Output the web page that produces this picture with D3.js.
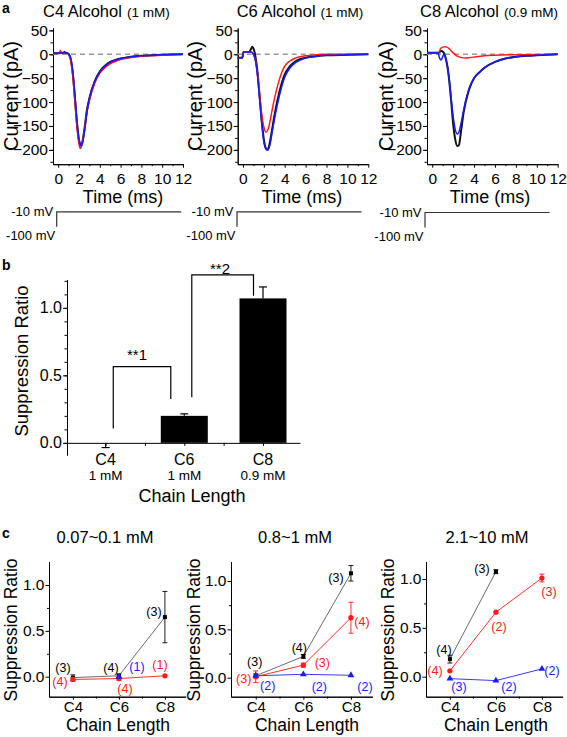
<!DOCTYPE html>
<html><head><meta charset="utf-8">
<script src="https://cdn.jsdelivr.net/npm/d3@7"></script>
<style>
body{margin:0;background:#fff;}
svg{display:block;}
</style></head><body>
<svg id="chart" width="567" height="737"></svg>
<script>
// ---------------- DATA ----------------
// Panel a: current traces, [time (ms), current (pA)]
const timeTicks = [0, 2, 4, 6, 8, 10, 12];
const currentTicks = [50, 0, -50, -100, -150, -200];
const alcoholTitles = ["C4 Alcohol", "C6 Alcohol", "C8 Alcohol"];
const alcoholConc = ["(1 mM)", "(1 mM)", "(0.9 mM)"];

const c4Black = [[-0.5,2],[0,2],[0.3,3],[0.8,3],[1.0,0],[1.2,-10],[1.4,-40],[1.6,-90],[1.8,-143],[2.0,-180],[2.15,-190],[2.3,-185],[2.5,-160],[2.75,-118],[3.0,-92],[3.5,-57],[4.0,-36],[4.5,-24],[5.0,-16],[5.5,-12],[6.0,-9],[7.0,-5],[8.0,-3],[9.0,-2],[10.0,-1],[12.0,0]];
const c4Red = [[-0.5,2],[0.1,2],[0.2,8],[0.3,3],[0.8,3],[1.0,0],[1.2,-12],[1.4,-45],[1.6,-97],[1.8,-152],[2.0,-188],[2.12,-197],[2.27,-190],[2.5,-163],[2.75,-123],[3.0,-97],[3.5,-61],[4.0,-40],[4.5,-28],[5.0,-20],[5.5,-15],[6.0,-11],[7.0,-7],[8.0,-4],[9.0,-3],[10.0,-2],[12.0,0]];
const c4Blue = [[-0.5,2],[0.5,3],[0.6,6],[0.7,3],[0.9,2],[1.05,0],[1.25,-12],[1.45,-45],[1.65,-97],[1.85,-150],[2.05,-183],[2.2,-192],[2.35,-185],[2.55,-158],[2.8,-117],[3.0,-93],[3.5,-58],[4.0,-37],[4.5,-25],[5.0,-17],[5.5,-12],[6.0,-9],[7.0,-5],[8.0,-3],[9.0,-2],[10.0,-1],[12.0,0]];

const c6Black = [[-0.5,-7],[-0.05,-7],[0.05,5],[0.6,5],[0.75,10],[0.9,16],[1.05,10],[1.2,-5],[1.4,-38],[1.6,-88],[1.8,-138],[2.0,-178],[2.2,-197],[2.35,-200],[2.5,-192],[2.75,-163],[3.0,-130],[3.5,-78],[4.0,-42],[4.5,-25],[5.0,-15],[5.5,-10],[6.0,-7],[7.0,-4],[8.0,-2],[10.0,-1],[12.0,0]];
const c6Red = [[-0.5,-7],[-0.05,-7],[0.05,5],[0.8,5],[1.0,0],[1.2,-12],[1.4,-42],[1.6,-85],[1.8,-125],[2.0,-152],[2.2,-163],[2.35,-160],[2.5,-150],[2.75,-122],[3.0,-95],[3.5,-52],[4.0,-25],[4.5,-14],[5.0,-8],[6.0,-3],[7.0,-1],[8.0,0],[12.0,0]];
const c6Blue = [[-0.5,-7],[-0.05,-7],[0.05,5],[0.8,5],[1.0,0],[1.2,-14],[1.4,-46],[1.6,-95],[1.8,-145],[2.0,-182],[2.2,-197],[2.4,-200],[2.6,-188],[2.8,-163],[3.0,-138],[3.5,-86],[4.0,-48],[4.5,-29],[5.0,-18],[5.5,-12],[6.0,-8],[7.0,-4],[8.0,-2],[10.0,-1],[12.0,0]];

const c8Black = [[-0.5,3],[0.6,3],[0.85,7],[1.05,5],[1.25,-5],[1.45,-25],[1.6,-50],[1.8,-95],[2.0,-145],[2.2,-178],[2.4,-192],[2.55,-190],[2.75,-162],[3.0,-122],[3.5,-75],[4.0,-50],[4.5,-38],[5.0,-28],[6.0,-16],[7.0,-9],[8.0,-5],[9.0,-3],[10.0,-2],[12.0,0]];
const c8Red = [[-0.5,3],[0.6,3],[0.8,12],[1.0,15],[1.3,16],[1.6,12],[2.0,3],[2.4,-4],[2.8,-7],[3.2,-8],[3.6,-7],[4.2,-5],[5.0,-3],[6.0,-2],[8.0,-1],[12.0,0]];
const c8Blue = [[-0.5,3],[0.55,3],[0.7,-8],[0.85,-12],[1.0,-5],[1.1,0],[1.25,-5],[1.45,-25],[1.6,-48],[1.8,-90],[2.0,-130],[2.2,-157],[2.4,-167],[2.55,-163],[2.75,-145],[3.0,-117],[3.5,-74],[4.0,-50],[4.5,-38],[5.0,-28],[6.0,-16],[7.0,-9],[8.0,-5],[9.0,-3],[10.0,-2],[12.0,0]];

// voltage protocol [time (ms), mV]
const protocolTime = [0, 0, 12];
const protocolVolt = [-100, -10, -10];
const protocolLabels = ["-10 mV", "-100 mV"];

// Panel b
const chainCats = ["C4", "C6", "C8"];
const chainConc = ["1 mM", "1 mM", "0.9 mM"];
const barMeans = [-0.005, 0.20, 1.07];
const barErrs = [0.03, 0.015, 0.085];
const ratioTicks = [0.0, 0.5, 1.0];
const sigLabels = ["**1", "**2"];

// Panel c
const cTitles = ["0.07~0.1 mM", "0.8~1 mM", "2.1~10 mM"];
const c1Black = [-0.01, 0.01, 0.65], c1BlackErr = [0.03, 0.02, 0.28];
const c1Red = [-0.03, -0.02, 0.01], c1RedErr = [0.02, 0.02, 0.01];
const c1Blue = [null, 0.0, null], c1BlueErr = [0, 0, 0];
const c2Black = [0.02, 0.22, 1.08], c2BlackErr = [0.02, 0.02, 0.08];
const c2Red = [0.01, 0.13, 0.62], c2RedErr = [0.06, 0.02, 0.16];
const c2Blue = [0.02, 0.035, 0.025], c2BlueErr = [0.01, 0.01, 0.01];
const c3Black = [0.18, 1.075, null], c3BlackErr = [0.04, 0.02, 0];
const c3Red = [0.06, 0.66, 1.01], c3RedErr = [0.01, 0.01, 0.04];
const c3Blue = [-0.02, -0.04, 0.08], c3BlueErr = [0.01, 0.01, 0.01];
const c1N = { black: ["(3)","(4)","(3)"], red: ["(4)","(4)","(1)"], blue: [null,"(1)",null] };
const c2N = { black: ["(3)","(4)","(3)"], red: ["(3)","(3)","(4)"], blue: ["(2)","(2)","(2)"] };
const c3N = { black: ["(4)","(3)",null], red: ["(4)","(2)","(3)"], blue: ["(3)","(2)","(2)"] };

// ---------------- LAYOUT / STYLE ----------------
const FONT = '"Liberation Sans", Arial, Helvetica, sans-serif';
const RED = "#ff1a1a", BLUE = "#1a1aff";
const svg = d3.select("#chart").attr("font-family", FONT);

function styleAxis(g, fs) {
  g.attr("font-family", FONT).attr("font-size", fs);
  g.selectAll(".domain").attr("stroke", "#000").attr("stroke-width", 1);
  g.selectAll(".tick line").attr("stroke", "#000").attr("stroke-width", 1);
  g.selectAll(".tick text").attr("fill", "#000");
}
function txt(x, y, s, fs, opts = {}) {
  const t = svg.append("text").attr("x", x).attr("y", y).attr("font-size", fs)
    .attr("fill", opts.fill || "#000").attr("text-anchor", opts.anchor || "start").text(s);
  if (opts.weight) t.attr("font-weight", opts.weight);
  if (opts.rotate) t.attr("transform", `rotate(-90,${x},${y})`);
  return t;
}

// ---------------- PANEL A ----------------
txt(2, 13, "a", 14, { weight: "bold" });
const aPanels = [
  { x0: 53, x1: 183, titleX: 43, ylabX: 18, xlabX: 123, protoX: 56.7, protoY: 211.8, traces: [c4Black, c4Red, c4Blue] },
  { x0: 237.7, x1: 368.3, titleX: 236.7, ylabX: 202, xlabX: 302, protoX: 237, protoY: 211.8, traces: [c6Black, c6Red, c6Blue] },
  { x0: 427, x1: 557.7, titleX: 420, ylabX: 393, xlabX: 490, protoX: 425, protoY: 212.5, traces: [c8Black, c8Red, c8Blue] }
];
const traceStyles = [{ c: "#111", w: 2 }, { c: RED, w: 1.5 }, { c: BLUE, w: 1.5 }];

aPanels.forEach((p, i) => {
  const x = d3.scaleLinear().domain([-0.5, 12]).range([p.x0, p.x1]);
  const y = d3.scaleLinear().domain([-230, 55]).range([164.2, 28]);
  const gy = svg.append("g").attr("transform", `translate(${p.x0},0)`)
    .call(d3.axisLeft(y).tickValues(currentTicks).tickSize(4).tickPadding(1).tickSizeOuter(0));
  styleAxis(gy, 15.5);
  const gym = svg.append("g").attr("transform", `translate(${p.x0},0)`)
    .call(d3.axisLeft(y).tickValues(d3.range(-225, 51, 25)).tickSize(2.5).tickFormat("").tickSizeOuter(0));
  styleAxis(gym, 10);
  const gx = svg.append("g").attr("transform", `translate(0,164.2)`)
    .call(d3.axisBottom(x).tickValues(timeTicks).tickSize(3.5).tickPadding(5).tickSizeOuter(0));
  styleAxis(gx, 15.5);
  const gxm = svg.append("g").attr("transform", `translate(0,164.2)`)
    .call(d3.axisBottom(x).tickValues(d3.range(1, 12, 2)).tickSize(2).tickFormat("").tickSizeOuter(0));
  styleAxis(gxm, 10);
  svg.append("line").attr("x1", x(-0.5)).attr("x2", x(12)).attr("y1", y(0)).attr("y2", y(0))
    .attr("stroke", "#9a9a9a").attr("stroke-width", 1.5).attr("stroke-dasharray", "5,4");
  const line = d3.line().x(d => x(d[0])).y(d => y(d[1])).curve(d3.curveMonotoneX);
  p.traces.forEach((tr, k) => {
    svg.append("path").attr("d", line(tr)).attr("fill", "none")
      .attr("stroke", traceStyles[k].c).attr("stroke-width", traceStyles[k].w);
  });
  const t = txt(p.titleX, 17, alcoholTitles[i], 16.5);
  t.append("tspan").attr("dx", 5).attr("font-size", 13.5).text(alcoholConc[i]);
  txt(p.ylabX, 96, "Current (pA)", 20, { anchor: "middle", rotate: true });
  txt(p.xlabX, 203, "Time (ms)", 18, { anchor: "middle" });
  // voltage protocol
  const px = d3.scaleLinear().domain([0, 12]).range([p.protoX, p.protoX + 124.5]);
  const pv = d3.scaleLinear().domain([-100, -10]).range([p.protoY + 15, p.protoY]);
  const pline = d3.line().x(d => px(d[0])).y(d => pv(d[1]));
  svg.append("path").attr("d", pline(protocolTime.map((tt, j) => [tt, protocolVolt[j]])))
    .attr("fill", "none").attr("stroke", "#333").attr("stroke-width", 1.2);
  txt(p.protoX - 3.5, pv(-10) + 4, protocolLabels[0], 13, { anchor: "end" });
  txt(p.protoX - 1.5, pv(-100) + 13.5, protocolLabels[1], 13, { anchor: "end" });
});

// ---------------- PANEL B ----------------
txt(2, 270, "b", 14, { weight: "bold" });
{
  const y = d3.scaleLinear().domain([-0.09, 1.21]).range([455, 279.5]);
  const xi = d3.scaleLinear().domain([-0.49, 2.47]).range([67, 300]);
  const gy = svg.append("g").attr("transform", "translate(67,0)")
    .call(d3.axisLeft(y).tickValues(ratioTicks).tickFormat(d3.format(".1f")).tickSize(4).tickPadding(1).tickSizeOuter(0));
  styleAxis(gy, 16);
  const gym = svg.append("g").attr("transform", "translate(67,0)")
    .call(d3.axisLeft(y).tickValues(d3.range(-0.1, 1.21, 0.1).filter(v => v > -0.095)).tickSize(2.5).tickFormat("").tickSizeOuter(0));
  styleAxis(gym, 10);
  const gx = svg.append("g").attr("transform", `translate(0,${y(0)})`)
    .call(d3.axisBottom(xi).tickValues([0, 0.5, 1, 1.5, 2]).tickSize(3).tickFormat("").tickSizeOuter(0));
  styleAxis(gx, 10);
  const bw = 47;
  barMeans.forEach((m, i) => {
    if (m > 0) {
      svg.append("rect").attr("x", xi(i) - bw / 2).attr("width", bw)
        .attr("y", y(m)).attr("height", y(0) - y(m)).attr("fill", "#000");
    }
    const e = m >= 0 ? m + barErrs[i] : m - barErrs[i];
    svg.append("line").attr("x1", xi(i)).attr("x2", xi(i)).attr("y1", y(m)).attr("y2", y(e)).attr("stroke", "#000").attr("stroke-width", 1.2);
    svg.append("line").attr("x1", xi(i) - 4).attr("x2", xi(i) + 4).attr("y1", y(e)).attr("y2", y(e)).attr("stroke", "#000").attr("stroke-width", 1.2);
    txt(xi(i), 465, chainCats[i], 16, { anchor: "middle" });
    txt(xi(i), 480, chainConc[i], 13.5, { anchor: "middle" });
  });
  const brackets = [
    { a: 0, b: 1, dxa: 7.7, dxb: -13.5, ya: 0.107, top: 0.565, yb: 0.324, tx: 137, ty: 360 },
    { a: 1, b: 2, dxa: 7.5, dxb: -9.5, ya: 0.338, top: 1.244, yb: 1.089, tx: 220, ty: 274 }
  ];
  brackets.forEach((br, k) => {
    const xa = xi(br.a) + br.dxa, xb = xi(br.b) + br.dxb;
    svg.append("path").attr("d", d3.line()([[xa, y(br.ya)], [xa, y(br.top)], [xb, y(br.top)], [xb, y(br.yb)]]))
      .attr("fill", "none").attr("stroke", "#000").attr("stroke-width", 1.2);
    txt(br.tx, br.ty, sigLabels[k], 15, { anchor: "middle" });
  });
  txt(28, 361, "Suppression Ratio", 18.5, { anchor: "middle", rotate: true });
  txt(192, 502, "Chain Length", 18, { anchor: "middle" });
}

// ---------------- PANEL C ----------------
txt(2, 538, "c", 14, { weight: "bold" });
const cPanels = [
  { left: 49, spacing: 46, y0: 676.7, unit: 91.7, titleX: 105, ylabX: 17, xlabX: 118,
    black: c1Black, blackErr: c1BlackErr, red: c1Red, redErr: c1RedErr, blue: c1Blue, blueErr: c1BlueErr, n: c1N,
    off: { black: [[-10,-10],[-8,-8],[-11,-5]], red: [[-13,2],[6,10],[-5,-11]], blue: [null,[18,-10],null] } },
  { left: 231, spacing: 47.6, y0: 677.7, unit: 96.7, titleX: 295, ylabX: 200, xlabX: 307,
    black: c2Black, blackErr: c2BlackErr, red: c2Red, redErr: c2RedErr, blue: c2Blue, blueErr: c2BlueErr, n: c2N,
    off: { black: [[-1,-14],[-4,-9],[-15,4]], red: [[-12,2],[19,-3],[11,4]], blue: [[12,10],[16,12],[14,11]] } },
  { left: 426, spacing: 46, y0: 676.7, unit: 97.7, titleX: 487, ylabX: 394, xlabX: 496,
    black: c3Black, blackErr: c3BlackErr, red: c3Red, redErr: c3RedErr, blue: c3Blue, blueErr: c3BlueErr, n: c3N,
    off: { black: [[-6,-9],[-14,-3],null], red: [[-15,0],[3,14],[7,14]], blue: [[9,8],[13,6],[10,2]] } }
];
const seriesStyle = {
  black: { line: "#444", lw: 0.8, fill: "#000", sym: d3.symbolSquare, size: 16, text: "#000" },
  red: { line: "#ff3030", lw: 1, fill: RED, sym: d3.symbolCircle, size: 22, text: RED },
  blue: { line: "#3a3aff", lw: 1, fill: BLUE, sym: d3.symbolTriangle, size: 20, text: BLUE }
};
cPanels.forEach((p, i) => {
  const yTop = 561.7, yBot = 696.7;
  const y = d3.scaleLinear().domain([(p.y0 - yBot) / p.unit, (p.y0 - yTop) / p.unit]).range([yBot, yTop]);
  const xi = d3.scaleLinear().domain([-0.52, 2.45]).range([p.left, p.left + 2.97 * p.spacing]);
  const gy = svg.append("g").attr("transform", `translate(${p.left},0)`)
    .call(d3.axisLeft(y).tickValues(ratioTicks).tickFormat(d3.format(".1f")).tickSize(3.5).tickPadding(1).tickSizeOuter(0));
  styleAxis(gy, 15.5);
  const gym = svg.append("g").attr("transform", `translate(${p.left},0)`)
    .call(d3.axisLeft(y).tickValues([0.25, 0.75]).tickSize(2).tickFormat("").tickSizeOuter(0));
  styleAxis(gym, 10);
  const gx = svg.append("g").attr("transform", `translate(0,${yBot})`)
    .call(d3.axisBottom(xi).tickValues([0, 1, 2]).tickFormat((d) => chainCats[d]).tickSize(3).tickPadding(2).tickSizeOuter(0));
  styleAxis(gx, 15);
  const gxm = svg.append("g").attr("transform", `translate(0,${yBot})`)
    .call(d3.axisBottom(xi).tickValues([0.5, 1.5]).tickSize(2).tickFormat("").tickSizeOuter(0));
  styleAxis(gxm, 10);

  ["black", "red", "blue"].forEach(key => {
    const st = seriesStyle[key];
    const vals = p[key], errs = p[key + "Err"];
    const line = d3.line().defined(d => d != null).x((d, j) => xi(j)).y(d => y(d));
    svg.append("path").attr("d", line(vals)).attr("fill", "none").attr("stroke", st.line).attr("stroke-width", st.lw);
    vals.forEach((v, j) => {
      if (v == null) return;
      const e = errs[j];
      if (e > 0.015) {
        svg.append("line").attr("x1", xi(j)).attr("x2", xi(j)).attr("y1", y(v - e)).attr("y2", y(v + e)).attr("stroke", st.fill).attr("stroke-width", 0.9);
        [v - e, v + e].forEach(ev => svg.append("line").attr("x1", xi(j) - 2.5).attr("x2", xi(j) + 2.5)
          .attr("y1", y(ev)).attr("y2", y(ev)).attr("stroke", st.fill).attr("stroke-width", 0.9));
      }
      svg.append("path").attr("d", d3.symbol().type(st.sym).size(st.size)())
        .attr("transform", `translate(${xi(j)},${y(v)})`).attr("fill", st.fill);
      const lab = p.n[key][j], o = p.off[key][j];
      if (lab && o) {
        svg.append("text").attr("x", xi(j) + o[0]).attr("y", y(v) + o[1]).attr("dy", "0.35em")
          .attr("text-anchor", "middle").attr("font-size", 12.5).attr("fill", st.text).text(lab);
      }
    });
  });
  txt(p.titleX, 543, cTitles[i], 16.5, { anchor: "middle" });
  txt(p.ylabX, 630, "Suppression Ratio", 17.5, { anchor: "middle", rotate: true });
  txt(p.xlabX, 731, "Chain Length", 17.5, { anchor: "middle" });
});
</script>
</body></html>
